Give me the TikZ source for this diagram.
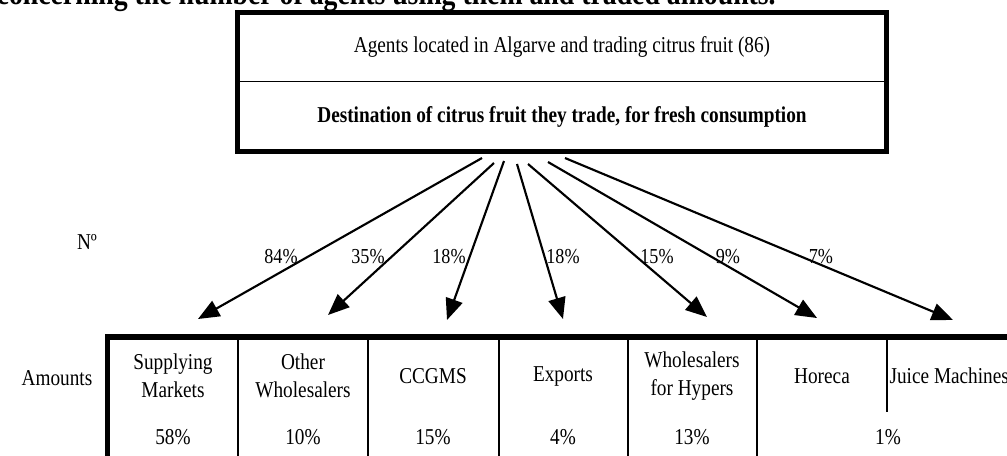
\documentclass[tikz,border=0pt]{standalone}
\usepackage{fontspec}
\setmainfont{Liberation Serif}[FakeStretch=0.85]
\usetikzlibrary{positioning, arrows.meta}

\tikzset{
    txt/.style={align=center, font=\fontsize{17}{21}\selectfont},
    boldtxt/.style={align=center, font=\bfseries\fontsize{17}{21}\selectfont},
    pct/.style={font=\fontsize{16}{19}\selectfont, inner sep=0pt},
    flow/.style={-{Triangle[length=16pt, width=13pt]}, line width=1.6pt},
    rule/.style={line width=1.1pt},
}

\begin{document}
\begin{tikzpicture}[x=0.75pt, y=-0.75pt]
    \clip (0,0) rectangle (1007,455);
    \node[font=\bfseries\fontsize{24.5}{28}\selectfont, anchor=base east, inner sep=0pt] (head) at (776,4.5) {concerning the number of agents using them and traded amounts.};

    % source box
    \node[txt, minimum width=486pt, minimum height=51.4pt, inner sep=0pt] (agents) at (562,46.75) {Agents located in Algarve and trading citrus fruit (86)};
    \node[boldtxt, minimum width=486pt, minimum height=52.5pt, inner sep=0pt, below=0pt of agents] (dest) {Destination of citrus fruit they trade, for fresh consumption};
    \draw[rule] (agents.south west) -- (agents.south east);
    \draw[line width=3.75pt] (agents.north west) rectangle (dest.south east);

    \node[txt] (no) at (87,242) {N\textordmasculine};
    \node[txt] (amounts) at (57,378) {Amounts};

    % destinations
    \node[txt] (c1) at (173,376) {Supplying\\Markets};
    \node[txt] (c2) at (303,376) {Other\\Wholesalers};
    \node[txt] (c3) at (433,376) {CCGMS};
    \node[txt] (c4) at (563,376) {Exports};
    \node[txt] (c5) at (692,376) {Wholesalers\\for Hypers};
    \node[txt] (c6) at (822,376) {Horeca};
    \node[txt, anchor=west, inner sep=1pt] (c7) at (888,376) {Juice Machines};

    \node[txt] (a1) at (173,437) {58\%};
    \node[txt] (a2) at (303,437) {10\%};
    \node[txt] (a3) at (433,437) {15\%};
    \node[txt] (a4) at (563,437) {4\%};
    \node[txt] (a5) at (692,437) {13\%};
    \node[txt] (a6) at (888,437) {1\%};

    \draw[line width=4.5pt] (105,337) -- (1010,337);
    \draw[line width=3.75pt] (107.5,334) -- (107.5,460);
    \foreach \x in {238, 368, 499, 628, 757}
        \draw[rule] (\x,340) -- (\x,460);
    \draw[rule] (887,340) -- (887,412);

    % arrows
    \coordinate (s1) at (482,158);
    \coordinate (s2) at (494,163);
    \coordinate (s3) at (504,161);
    \coordinate (s4) at (517,164);
    \coordinate (s5) at (528,164);
    \coordinate (s6) at (548,162);
    \coordinate (s7) at (565,158);
    \coordinate (t1) at (198,319);
    \coordinate (t2) at (328,315);
    \coordinate (t3) at (447,320);
    \coordinate (t4) at (563,319);
    \coordinate (t5) at (707,317);
    \coordinate (t6) at (817,318);
    \coordinate (t7) at (953,320);
    \foreach \i in {1,...,7}
        \draw[flow] (s\i) -- (t\i);

    \node[pct] (p1) at (281,256.5) {84\%};
    \node[pct] (p2) at (368,256.5) {35\%};
    \node[pct] (p3) at (449,256.5) {18\%};
    \node[pct] (p4) at (563,256.5) {18\%};
    \node[pct] (p5) at (657,256.5) {15\%};
    \node[pct] (p6) at (728,256.5) {9\%};
    \node[pct] (p7) at (821,256.5) {7\%};
\end{tikzpicture}
\end{document}
